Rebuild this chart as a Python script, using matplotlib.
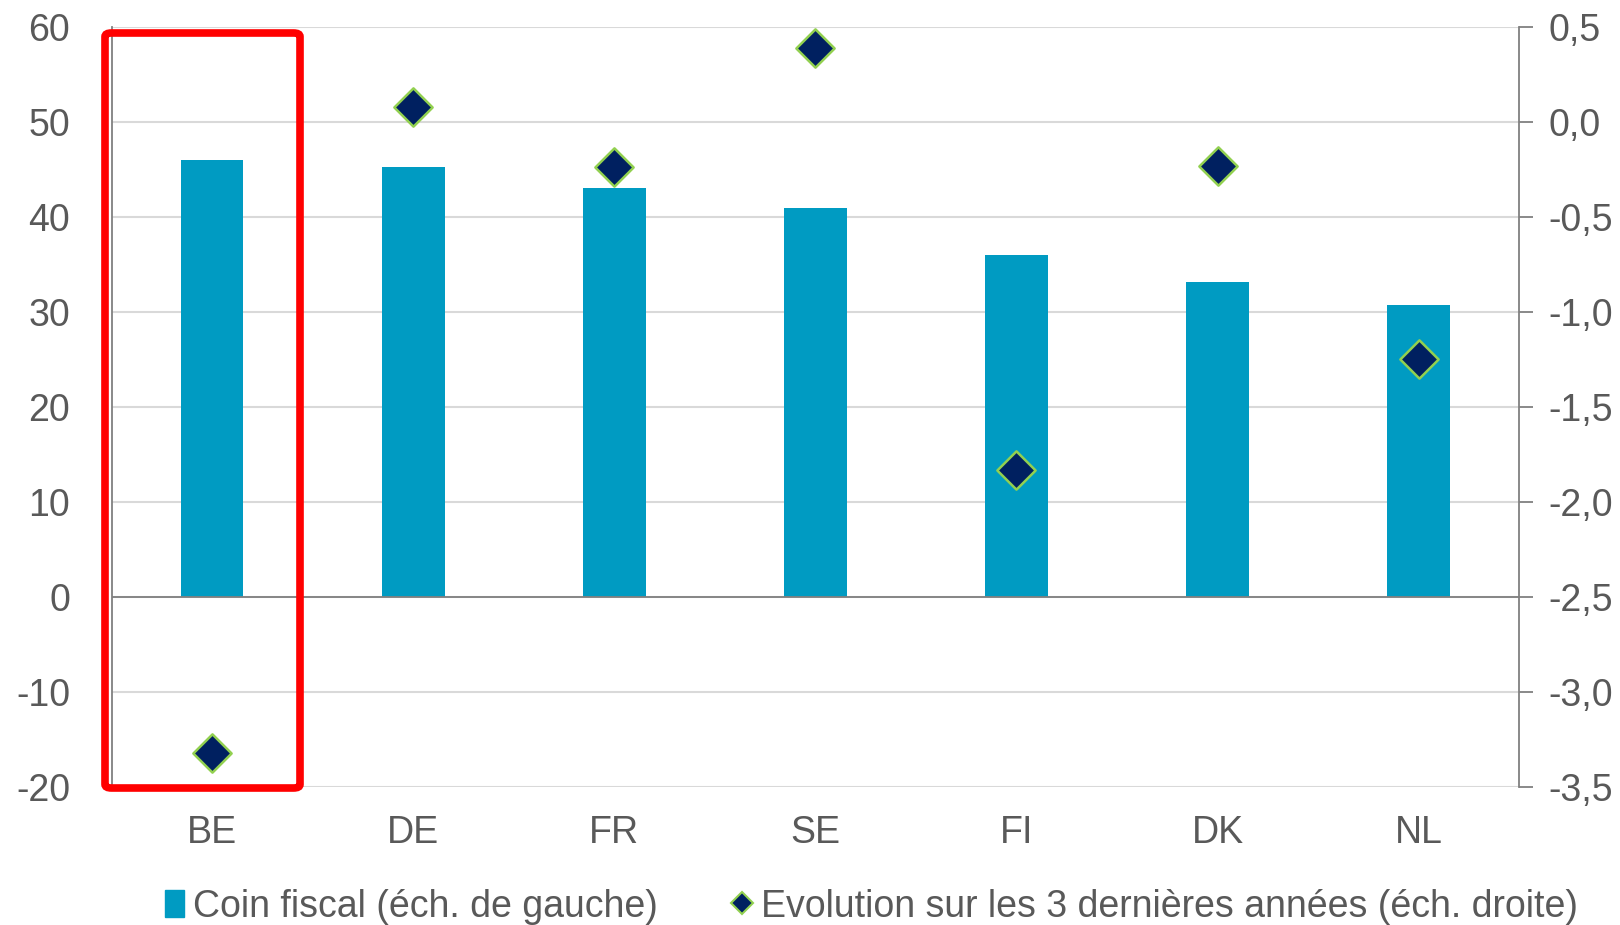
import matplotlib.pyplot as plt
import matplotlib.patches as patches
from matplotlib.lines import Line2D
from matplotlib.ticker import FuncFormatter

plt.rcParams['font.family'] = ['Liberation Sans', 'DejaVu Sans']
plt.rcParams['axes.unicode_minus'] = False

pays = ['BE', 'DE', 'FR', 'SE', 'FI', 'DK', 'NL']
coin_fiscal = [46.0, 45.3, 43.0, 40.9, 36.0, 33.1, 30.7]
evolution = [-3.32, 0.08, -0.24, 0.39, -1.83, -0.23, -1.25]

gris = '#595959'
bleu = '#009BC2'
marine = '#002060'
vert = '#92D050'

fig = plt.figure(figsize=(16.2, 9.25), dpi=100)
ax = fig.add_axes([0.069, 0.149, 0.8687, 0.822])
ax2 = ax.twinx()

x = list(range(len(pays)))
ax.bar(x, coin_fiscal, width=0.31, color=bleu, zorder=2)
ax.axhline(0, color='#808080', lw=1.3, zorder=3)
ax2.scatter(x, evolution, marker='D', s=380, color=marine,
            edgecolors=vert, linewidths=1.8, zorder=4)

ax.set_xlim(-0.5, 6.5)
ax.set_ylim(-20, 60)
ax.set_yticks(range(-20, 61, 10))
ax2.set_ylim(-3.5, 0.5)
ax2.set_yticks([-3.5, -3.0, -2.5, -2.0, -1.5, -1.0, -0.5, 0.0, 0.5])
ax2.yaxis.set_major_formatter(FuncFormatter(lambda v, p: f'{v:.1f}'.replace('.', ',')))

ax.grid(axis='y', color='#D9D9D9', lw=1.5, zorder=0)
ax.set_axisbelow(True)
ax.set_xticks(x)
ax.set_xticklabels(pays)

for a in (ax, ax2):
    for s in ('top', 'bottom'):
        a.spines[s].set_visible(False)
ax2.spines['left'].set_visible(False)
ax.spines['right'].set_visible(False)
ax.spines['left'].set_color('#808080')
ax2.spines['right'].set_color('#808080')
ax.spines['left'].set_linewidth(1.3)
ax2.spines['right'].set_linewidth(1.3)

ax.tick_params(axis='y', length=0, labelsize=27, labelcolor=gris, pad=30)
ax.tick_params(axis='x', length=0, labelsize=27, labelcolor=gris, pad=20)
ax2.tick_params(axis='y', length=10, width=1.3, color='#808080',
                labelsize=27, labelcolor=gris, pad=11)

handles = [
    patches.Patch(color=bleu, label='Coin fiscal (éch. de gauche)'),
    Line2D([], [], marker='D', ls='', markersize=11, markerfacecolor=marine,
           markeredgecolor=vert, markeredgewidth=1.5,
           label='Evolution sur les 3 dernières années (éch. droite)'),
]
leg = fig.legend(handles=handles, loc='lower center', bbox_to_anchor=(0.538, -0.036),
                 ncol=2, frameon=False, fontsize=27, handlelength=0.5,
                 handletextpad=0.25, columnspacing=2.0)
for t in leg.get_texts():
    t.set_color(gris)

rect = patches.FancyBboxPatch((105 / 1620, 1 - 788 / 925), 195 / 1620, 755 / 925,
                              boxstyle='round,pad=0,rounding_size=0.004',
                              transform=fig.transFigure, fill=False,
                              edgecolor='#FF0000', lw=5.5, zorder=10)
fig.patches.append(rect)

fig.savefig('out.png', dpi=100)
